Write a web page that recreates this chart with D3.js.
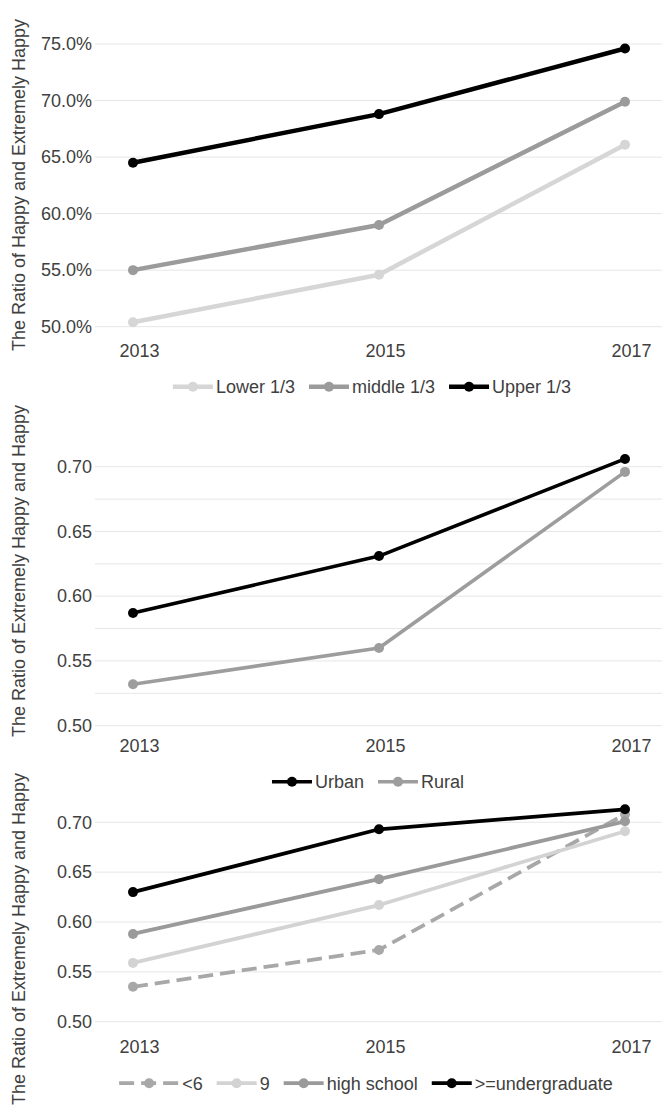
<!DOCTYPE html>
<html>
<head>
<meta charset="utf-8">
<script src="https://cdn.jsdelivr.net/npm/d3@7"></script>
<style>
  html, body { margin: 0; padding: 0; background: #fff; }
  svg { display: block; }
  text { font-family: "Liberation Sans", Arial, sans-serif; fill: #404040; }
</style>
</head>
<body>
<svg id="chart" width="666" height="1108"></svg>
<script>
// ---------- DATA ----------
const years = ["2013", "2015", "2017"];

// Chart 1: income groups
const incomeSeries = ["Lower 1/3", "middle 1/3", "Upper 1/3"];
const incomeLower = [0.504, 0.546, 0.661];
const incomeMiddle = [0.550, 0.590, 0.699];
const incomeUpper = [0.645, 0.688, 0.746];
const incomeTicks = [0.50, 0.55, 0.60, 0.65, 0.70, 0.75];

// Chart 2: urban / rural
const areaSeries = ["Urban", "Rural"];
const areaUrban = [0.587, 0.631, 0.706];
const areaRural = [0.532, 0.560, 0.696];
const areaTicks = [0.50, 0.55, 0.60, 0.65, 0.70];
const areaGrid = [0.50, 0.525, 0.55, 0.575, 0.60, 0.625, 0.65, 0.675, 0.70];

// Chart 3: education
const eduSeries = ["<6", "9", "high school", ">=undergraduate"];
const eduBelow6 = [0.535, 0.572, 0.708];
const eduNine = [0.559, 0.617, 0.691];
const eduHigh = [0.588, 0.643, 0.701];
const eduUnder = [0.630, 0.693, 0.713];
const eduTicks = [0.50, 0.55, 0.60, 0.65, 0.70];

// ---------- STYLE / LAYOUT ----------
const svg = d3.select("#chart");
const plotLeft = 95, plotRight = 662;
const x = d3.scalePoint().domain(years).range([133, 625]);

const charts = [
  {
    yRange: [326.7, 44], yDomain: [0.50, 0.75],
    ticks: incomeTicks, grid: incomeTicks, fmt: d3.format(".1%"),
    title: "The Ratio of Happy and Extremely Happy", titleY: 185,
    xLabelOff: 24, legendOff: 60, legendCx: 372, lw: 4.5,
    series: [
      { name: incomeSeries[0], values: incomeLower, color: "#d6d6d6" },
      { name: incomeSeries[1], values: incomeMiddle, color: "#9b9b9b" },
      { name: incomeSeries[2], values: incomeUpper, color: "#000000" }
    ]
  },
  {
    yRange: [725.7, 466.7], yDomain: [0.50, 0.70],
    ticks: areaTicks, grid: areaGrid, fmt: d3.format(".2f"),
    title: "The Ratio of Extremely Happy and Happy", titleY: 571,
    xLabelOff: 20, legendOff: 56, legendCx: 368, lw: 3.6,
    series: [
      { name: areaSeries[1], values: areaRural, color: "#9d9d9d", legendOrder: 1 },
      { name: areaSeries[0], values: areaUrban, color: "#000000", legendOrder: 0 }
    ]
  },
  {
    yRange: [1021.7, 822.3], yDomain: [0.50, 0.70],
    ticks: eduTicks, grid: eduTicks, fmt: d3.format(".2f"),
    title: "The Ratio of Extremely Happy and Happy", titleY: 939,
    xLabelOff: 25, legendOff: 61.5, legendCx: 366, lw: 3.8,
    series: [
      { name: eduSeries[0], values: eduBelow6, color: "#a8a8a8", dash: "15,7", sample: 60 },
      { name: eduSeries[1], values: eduNine, color: "#d3d3d3" },
      { name: eduSeries[2], values: eduHigh, color: "#9a9a9a" },
      { name: eduSeries[3], values: eduUnder, color: "#000000" }
    ]
  }
];

charts.forEach(c => {
  const y = d3.scaleLinear().domain(c.yDomain).range(c.yRange);
  const g = svg.append("g");

  // gridlines
  g.selectAll("line.grid").data(c.grid).join("line")
    .attr("x1", plotLeft).attr("x2", plotRight)
    .attr("y1", d => y(d)).attr("y2", d => y(d))
    .attr("stroke", "#e6e6e6").attr("stroke-width", 1);

  // y axis tick labels
  const yAxis = d3.axisLeft(y).tickValues(c.ticks).tickFormat(c.fmt).tickSize(0).tickPadding(0);
  const ya = g.append("g").attr("transform", `translate(${plotLeft - 3},0)`).call(yAxis);
  ya.select(".domain").remove();
  ya.selectAll("text").style("font-size", "18px").attr("fill", "#404040")
    .attr("font-family", "Liberation Sans, Arial, sans-serif");

  // x axis labels
  const xAxis = d3.axisBottom(x).tickSize(0).tickPadding(0);
  const xa = g.append("g").attr("transform", `translate(6,${c.yRange[0] + c.xLabelOff})`).call(xAxis);
  xa.select(".domain").remove();
  xa.selectAll("text").style("font-size", "18px").attr("fill", "#404040")
    .attr("dy", "0.35em").attr("y", 0)
    .attr("font-family", "Liberation Sans, Arial, sans-serif");

  // y title
  g.append("text")
    .attr("transform", `translate(25,${c.titleY}) rotate(-90)`)
    .attr("text-anchor", "middle")
    .style("font-size", "18px")
    .text(c.title);

  // lines & markers
  const line = d3.line().x((d, i) => x(years[i])).y(d => y(d));
  c.series.forEach(s => {
    g.append("path").datum(s.values)
      .attr("d", line).attr("fill", "none")
      .attr("stroke", s.color).attr("stroke-width", c.lw)
      .attr("stroke-linejoin", "round")
      .attr("stroke-dasharray", s.dash || null);
    g.selectAll(null).data(s.values).join("circle")
      .attr("cx", (d, i) => x(years[i])).attr("cy", d => y(d))
      .attr("r", 5).attr("fill", s.color);
  });

  // legend
  const legSeries = c.series.slice().sort((a, b) =>
    (a.legendOrder ?? c.series.indexOf(a)) - (b.legendOrder ?? c.series.indexOf(b)));
  const lg = g.append("g");
  const ly = c.yRange[0] + c.legendOff;
  let cur = 0;
  const items = [];
  legSeries.forEach(s => {
    const w = s.sample || 40;
    const it = lg.append("g");
    it.append("line").attr("x1", 0).attr("x2", w).attr("y1", 0).attr("y2", 0)
      .attr("stroke", s.color).attr("stroke-width", c.lw)
      .attr("stroke-dasharray", s.dash || null);
    it.append("circle").attr("cx", w / 2).attr("cy", 0).attr("r", 5).attr("fill", s.color);
    const t = it.append("text").attr("x", w + 3).attr("y", 0).attr("dy", "0.35em")
      .style("font-size", "18px").text(s.name);
    const tw = t.node().getComputedTextLength();
    items.push({ it, start: cur });
    cur += w + 3 + tw + 14;
  });
  const total = cur - 14;
  const start = c.legendCx - total / 2;
  items.forEach(o => o.it.attr("transform", `translate(${start + o.start},${ly})`));
});
</script>
</body>
</html>
